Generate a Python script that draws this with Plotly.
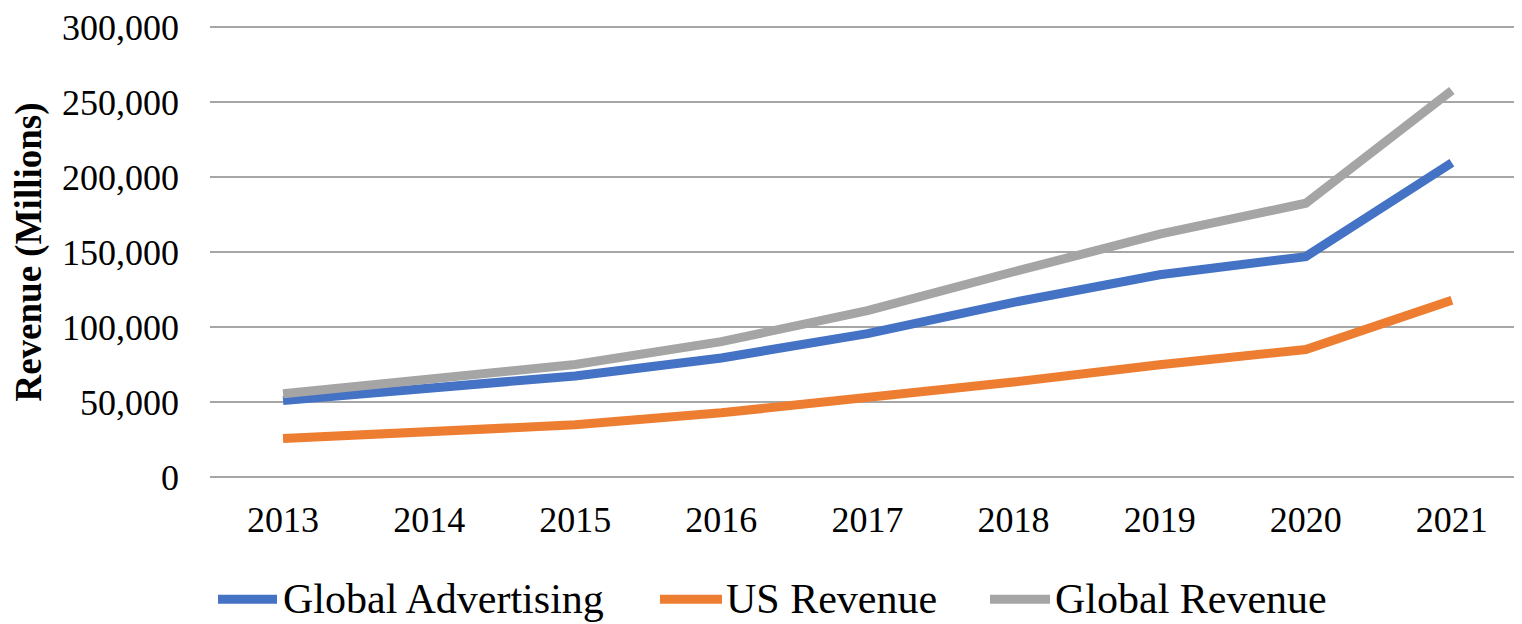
import plotly.graph_objects as go

years = ["2013", "2014", "2015", "2016", "2017", "2018", "2019", "2020", "2021"]
global_advertising = [51070, 59624, 67390, 79383, 95577, 116461, 134811, 146924, 209497]
us_revenue = [25600, 29500, 34810, 42781, 52449, 63269, 74843, 85014, 117854]
global_revenue = [55519, 66001, 74989, 90272, 110855, 136819, 161857, 182527, 257637]

series_names = ["Global Advertising", "US Revenue", "Global Revenue"]
colors = ["#4472C4", "#ED7D31", "#A5A5A5"]
series = [global_advertising, us_revenue, global_revenue]

FONT = "Liberation Serif, Times New Roman, serif"

# page has an 8px body margin; figure sized to fit the 1522x624 window
W, H = 1514, 616
L, R, T, B = 202, 0, 14, 145
PW, PH = W - L - R, H - T - B

fig = go.Figure()
for name, vals, col in zip(series_names, series, colors):
    fig.add_trace(go.Scatter(
        x=list(range(len(years))), y=vals, name=name, mode="lines",
        line=dict(color=col, width=9), showlegend=False,
    ))

fig.update_layout(
    width=W, height=H,
    margin=dict(l=L, r=R, t=T, b=B),
    paper_bgcolor="white", plot_bgcolor="white",
    font=dict(family=FONT, color="black"),
    xaxis=dict(
        range=[-0.5, 8.48], tickmode="array",
        tickvals=list(range(len(years))), ticktext=years,
        showgrid=False, zeroline=False, showline=False,
        tickfont=dict(size=36, family=FONT, color="black"),
        ticks="", ticklabelstandoff=16,
    ),
    yaxis=dict(
        range=[-1325, 301325], tickvals=[0, 50000, 100000, 150000, 200000, 250000, 300000],
        ticktext=["0", "50,000", "100,000", "150,000", "200,000", "250,000", "300,000"],
        showgrid=True, gridcolor="#A6A6A6", gridwidth=1.5,
        zeroline=False, showline=False, ticks="",
        tickfont=dict(size=36, family=FONT, color="black"),
        ticklabelstandoff=30, ticklabeloverflow="allow",
        title=dict(text="<b>Revenue (Millions)</b>", font=dict(size=37, family=FONT, color="black"), standoff=10),
    ),
)

# custom legend (page coords -> figure coords: minus 8)
leg_py = 600 - 8
ly = (H - B - leg_py) / PH
line_x = [(218, 277), (660, 722), (990, 1050)]
text_x = [281, 724, 1053]
for (x0, x1), tx, name, col in zip(line_x, text_x, series_names, colors):
    fig.add_shape(type="line", xref="paper", yref="paper",
                  x0=(x0 - 8 - L) / PW, x1=(x1 - 8 - L) / PW,
                  y0=ly, y1=ly, line=dict(color=col, width=9))
    fig.add_annotation(text=name, xref="paper", yref="paper",
                       x=(tx - 8 - L) / PW, y=ly,
                       xanchor="left", yanchor="middle", showarrow=False,
                       font=dict(size=42, family=FONT, color="black"))

fig.write_html("out.html")
